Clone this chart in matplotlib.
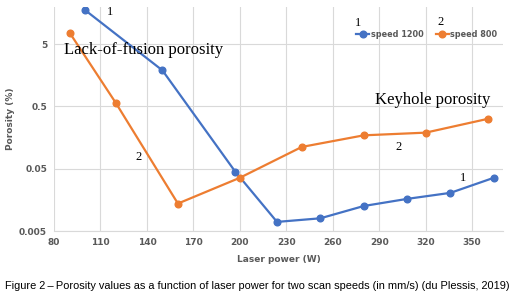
import matplotlib
matplotlib.use('Agg')
import matplotlib.pyplot as plt
from matplotlib.ticker import FixedLocator, NullLocator

# speed 1200 mm/s
power_1200 = [100, 150, 197, 224, 252, 280, 308, 336, 364]
por_1200 = [17.7, 1.9, 0.045, 0.0070, 0.0080, 0.0126, 0.0164, 0.0205, 0.0358]

# speed 800 mm/s
power_800 = [90, 120, 160, 200, 240, 280, 320, 360]
por_800 = [7.7, 0.565, 0.0138, 0.0358, 0.112, 0.172, 0.19, 0.316]

xticks = [80, 110, 140, 170, 200, 230, 260, 290, 320, 350]
yticks = [0.005, 0.05, 0.5, 5]
ytick_labels = ['0.005', '0.05', '0.5', '5']

blue = '#4472C4'
orange = '#ED7D31'
tick_col = '#595959'

fig = plt.figure(figsize=(5.16, 3.03), dpi=100)
ax = fig.add_axes([0.1047, 0.2376, 0.8703, 0.7393])

l1, = ax.plot(power_1200, por_1200, color=blue, lw=1.6, marker='o', ms=4.8, label='speed 1200')
l2, = ax.plot(power_800, por_800, color=orange, lw=1.6, marker='o', ms=4.8, label='speed 800')

ax.set_yscale('log')
ax.set_xlim(80, 370)
ax.set_ylim(0.005, 19.8)
ax.xaxis.set_major_locator(FixedLocator(xticks))
ax.yaxis.set_major_locator(FixedLocator(yticks))
ax.yaxis.set_minor_locator(NullLocator())
ax.set_yticklabels(ytick_labels)
ax.grid(True, color='#D9D9D9', lw=0.8)
ax.set_axisbelow(True)
for s in ['top', 'right', 'left']:
    ax.spines[s].set_visible(False)
ax.spines['bottom'].set_color('#D9D9D9')
ax.tick_params(length=0, labelsize=6.5, labelcolor=tick_col, pad=5)
for t in ax.get_xticklabels() + ax.get_yticklabels():
    t.set_fontweight('bold')

ax.set_xlabel('Laser power (W)', fontsize=6.5, fontweight='bold', color=tick_col, labelpad=6)
ax.set_ylabel('Porosity (%)', fontsize=6.5, fontweight='bold', color=tick_col, labelpad=3)

leg = ax.legend(loc='upper right', bbox_to_anchor=(1.003, 0.93), ncol=2, frameon=False,
                handlelength=1.6, handletextpad=0.15, columnspacing=1.5,
                labelcolor=tick_col, prop={'weight': 'bold', 'size': 5.9})

serif = 'Liberation Serif'
fig.text(0.125, 0.835, 'Lack-of-fusion porosity', family=serif, fontsize=12, va='center')
fig.text(0.727, 0.670, 'Keyhole porosity', family=serif, fontsize=12, va='center')
fig.text(0.213, 0.960, '1', family=serif, fontsize=9, ha='center', va='center')
fig.text(0.268, 0.482, '2', family=serif, fontsize=9, ha='center', va='center')
fig.text(0.772, 0.515, '2', family=serif, fontsize=9, ha='center', va='center')
fig.text(0.898, 0.412, '1', family=serif, fontsize=9, ha='center', va='center')
fig.text(0.694, 0.925, '1', family=serif, fontsize=9, ha='center', va='center')
fig.text(0.853, 0.928, '2', family=serif, fontsize=9, ha='center', va='center')

fig.text(0.010, 0.056, 'Figure 2\u2009\u2013\u2009Porosity values as a function of laser power for two scan speeds (in mm/s) (du Plessis, 2019)',
         family='Liberation Sans', fontsize=7.95, va='center')

fig.savefig('out.png', dpi=100)
